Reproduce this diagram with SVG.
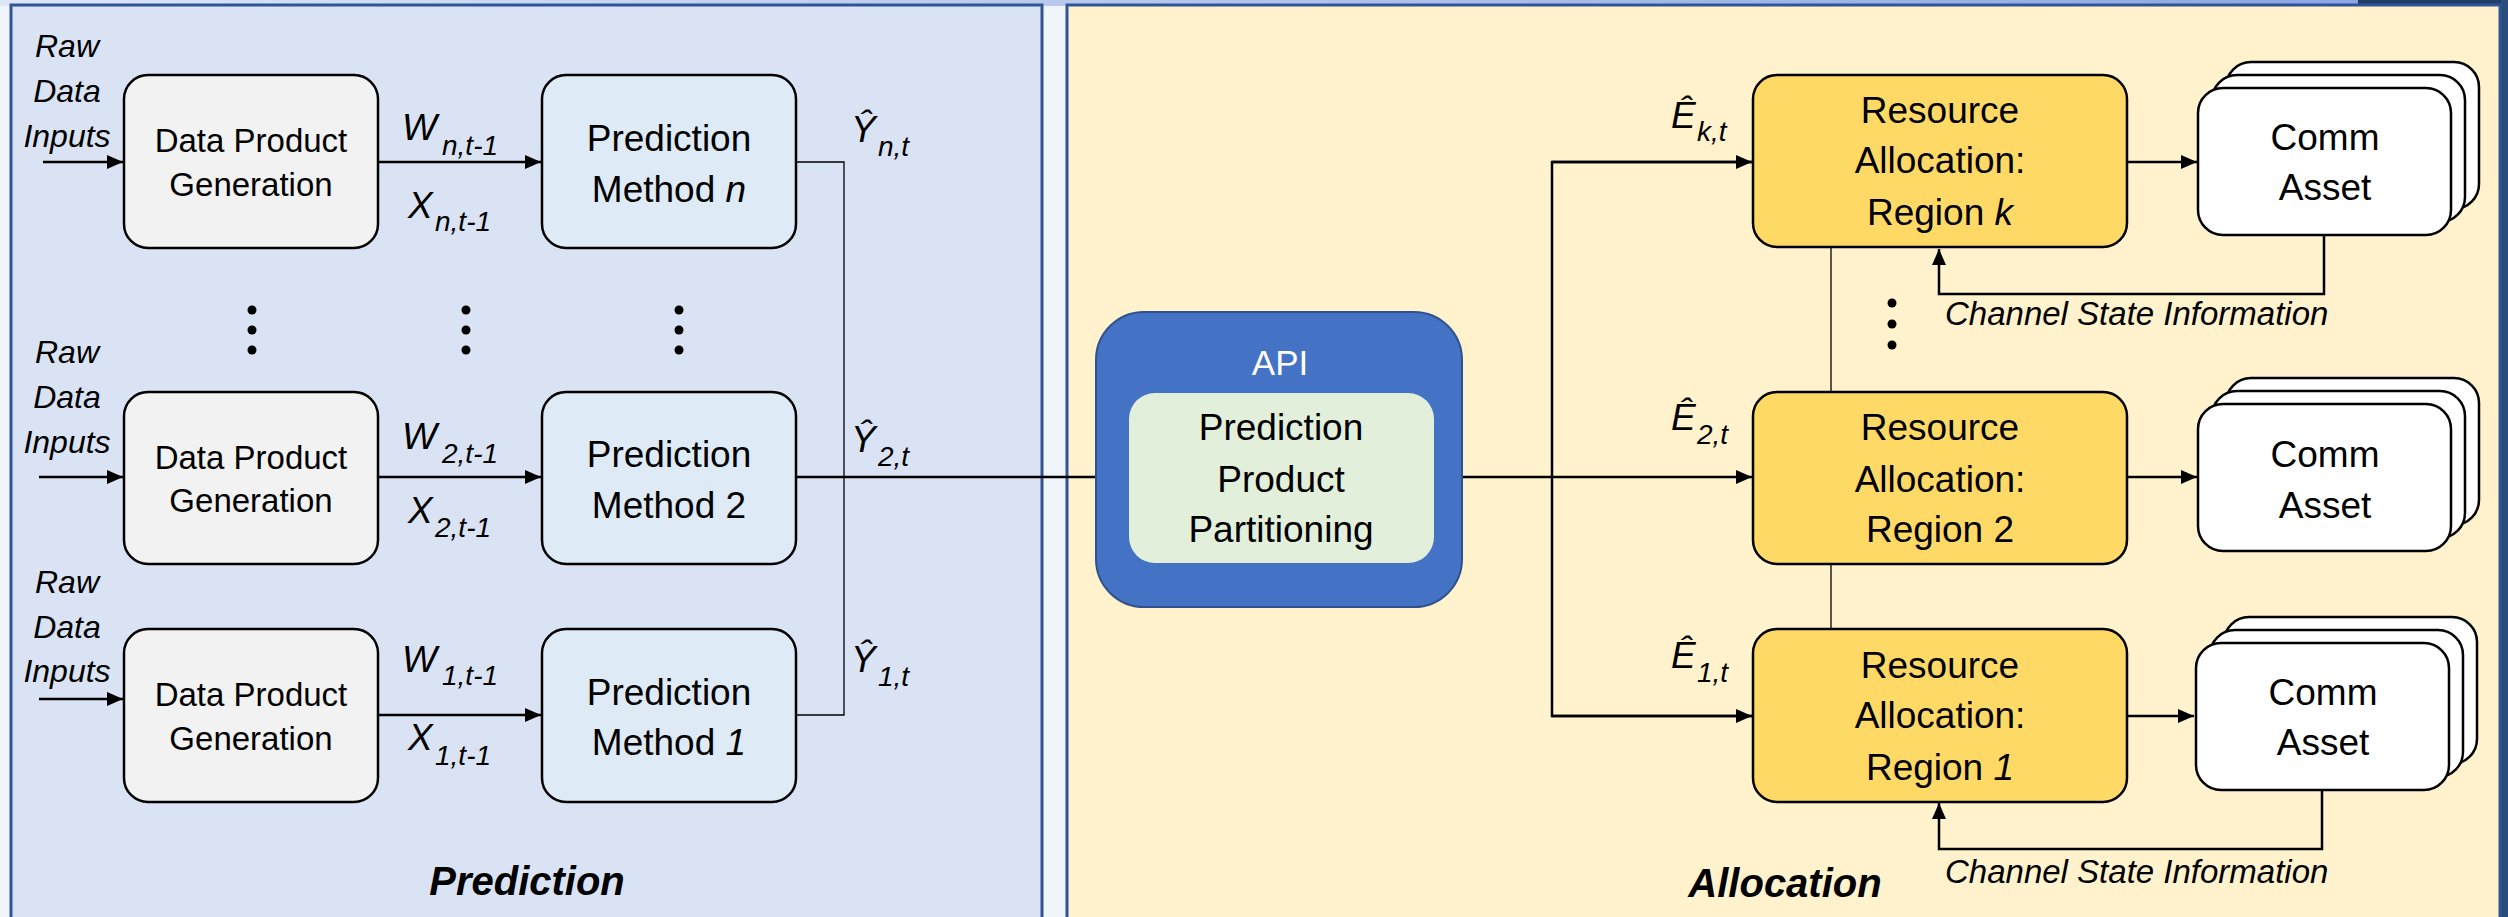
<svg xmlns="http://www.w3.org/2000/svg" width="2508" height="917" viewBox="0 0 2508 917">
<defs>
<marker id="ah" markerUnits="userSpaceOnUse" markerWidth="16" markerHeight="14" refX="16" refY="7" orient="auto"><path d="M0,0 L16,7 L0,14 Z" fill="#000"/></marker>
<linearGradient id="topg" x1="0" x2="1" y1="0" y2="0"><stop offset="0" stop-color="#DCE6F6"/><stop offset="1" stop-color="#8EA6E2"/></linearGradient>
<style>
text{font-family:"Liberation Sans",Arial,sans-serif;fill:#000}
.t32{font-size:33px;text-anchor:middle}
.t37{font-size:37px;text-anchor:middle}
.it{font-style:italic}
.raw{font-size:32px;font-style:italic;text-anchor:middle}
.m{font-size:37px;font-style:italic}
.s{font-size:28px;font-style:italic}
.csi{font-size:33px;font-style:italic}
.title{font-size:40px;font-weight:bold;font-style:italic;text-anchor:middle}
.box{stroke:#000;stroke-width:2.5}
.dpg{fill:#F2F2F2}
.pm{fill:#DEEAF6}
.ra{fill:#FFD966}
.ca{fill:#FFFFFF}
.c{fill:none;stroke:#000;stroke-width:2.5}
.thin{fill:none;stroke:#000;stroke-width:1.3}
.arr{marker-end:url(#ah)}
</style>
</defs>
<!-- background -->
<rect x="0" y="0" width="2508" height="917" fill="#F0F5FB"/>
<rect x="0" y="0" width="2360" height="6" fill="url(#topg)"/>
<rect x="2358" y="0" width="150" height="6" fill="#1F3D66"/>
<rect x="2501" y="0" width="7" height="917" fill="#2A4C7D"/>
<!-- panels -->
<g id="panel-prediction">
<rect x="11" y="5" width="1031" height="930" fill="#DAE3F3" stroke="#2F5597" stroke-width="3"/>
<text class="title" x="527" y="895">Prediction</text>
</g>
<g id="panel-allocation">
<rect x="1067" y="5" width="1433" height="930" fill="#FFF2CC" stroke="#2F5597" stroke-width="3"/>
<text class="title" x="1785" y="897">Allocation</text>
</g>

<!-- connectors -->
<g id="connectors">
<line class="c arr" x1="43" y1="162" x2="123" y2="162"/>
<line class="c arr" x1="39" y1="477" x2="123" y2="477"/>
<line class="c arr" x1="39" y1="699" x2="123" y2="699"/>
<line class="c arr" x1="378" y1="162" x2="541" y2="162"/>
<line class="c arr" x1="378" y1="477" x2="541" y2="477"/>
<line class="c arr" x1="378" y1="715" x2="541" y2="715"/>
<polyline class="thin" points="796,162 844,162 844,715 796,715"/>
<line class="c arr" x1="796" y1="477" x2="1128" y2="477"/>
<line class="c arr" x1="1434" y1="477" x2="1752" y2="477"/>
<polyline class="c" points="1753,162 1552,162 1552,716 1753,716"/>
<line class="c arr" x1="1552" y1="162" x2="1752" y2="162"/>
<line class="c arr" x1="1552" y1="716" x2="1752" y2="716"/>
<line class="thin" x1="1831" y1="247" x2="1831" y2="392"/>
<line class="thin" x1="1831" y1="564" x2="1831" y2="629"/>
<line class="c arr" x1="2127" y1="162" x2="2197" y2="162"/>
<line class="c arr" x1="2127" y1="477" x2="2197" y2="477"/>
<line class="c arr" x1="2127" y1="716" x2="2194" y2="716"/>
<polyline class="c arr" points="2324,235 2324,294 1939,294 1939,249"/>
<polyline class="c arr" points="2322,789 2322,849 1939,849 1939,803"/>
</g>

<!-- labels on connectors -->
<g id="labels">
<text class="raw" x="67" y="57">Raw</text><text class="raw" x="67" y="102">Data</text><text class="raw" x="67" y="147">Inputs</text>
<text class="raw" x="67" y="363">Raw</text><text class="raw" x="67" y="408">Data</text><text class="raw" x="67" y="453">Inputs</text>
<text class="raw" x="67" y="593">Raw</text><text class="raw" x="67" y="638">Data</text><text class="raw" x="67" y="682">Inputs</text>

<text class="m" x="402" y="140">W</text><text class="s" x="442" y="155">n,t-1</text>
<text class="m" x="408" y="218">X</text><text class="s" x="435" y="231">n,t-1</text>
<text class="m" x="402" y="449">W</text><text class="s" x="442" y="463">2,t-1</text>
<text class="m" x="408" y="523">X</text><text class="s" x="435" y="537">2,t-1</text>
<text class="m" x="402" y="672">W</text><text class="s" x="442" y="685">1,t-1</text>
<text class="m" x="408" y="750">X</text><text class="s" x="435" y="765">1,t-1</text>

<text class="m" x="851" y="142">Ŷ</text><text class="s" x="878" y="156">n,t</text>
<text class="m" x="851" y="452">Ŷ</text><text class="s" x="878" y="466">2,t</text>
<text class="m" x="851" y="672">Ŷ</text><text class="s" x="878" y="686">1,t</text>

<text class="m" x="1671" y="128">Ê</text><text class="s" x="1697" y="141">k,t</text>
<text class="m" x="1671" y="430">Ê</text><text class="s" x="1697" y="444">2,t</text>
<text class="m" x="1671" y="668">Ê</text><text class="s" x="1697" y="682">1,t</text>

<text class="csi" x="1945" y="325">Channel State Information</text>
<text class="csi" x="1945" y="883">Channel State Information</text>

<g fill="#000">
<circle cx="252" cy="310" r="4.5"/><circle cx="252" cy="330" r="4.5"/><circle cx="252" cy="350" r="4.5"/>
<circle cx="466" cy="310" r="4.5"/><circle cx="466" cy="330" r="4.5"/><circle cx="466" cy="350" r="4.5"/>
<circle cx="679" cy="310" r="4.5"/><circle cx="679" cy="330" r="4.5"/><circle cx="679" cy="350" r="4.5"/>
<circle cx="1892" cy="303" r="4.5"/><circle cx="1892" cy="324" r="4.5"/><circle cx="1892" cy="345" r="4.5"/>
</g>
</g>

<!-- Data product generation -->
<g id="dpg-n"><rect class="box dpg" x="124" y="75" width="254" height="173" rx="24"/><text class="t32" x="251" y="152">Data Product</text><text class="t32" x="251" y="196">Generation</text></g>
<g id="dpg-2"><rect class="box dpg" x="124" y="392" width="254" height="172" rx="24"/><text class="t32" x="251" y="469">Data Product</text><text class="t32" x="251" y="512">Generation</text></g>
<g id="dpg-1"><rect class="box dpg" x="124" y="629" width="254" height="173" rx="24"/><text class="t32" x="251" y="706">Data Product</text><text class="t32" x="251" y="750">Generation</text></g>

<!-- Prediction methods -->
<g id="pm-n"><rect class="box pm" x="542" y="75" width="254" height="173" rx="24"/><text class="t37" x="669" y="151">Prediction</text><text class="t37" x="669" y="202">Method <tspan class="it">n</tspan></text></g>
<g id="pm-2"><rect class="box pm" x="542" y="392" width="254" height="172" rx="24"/><text class="t37" x="669" y="467">Prediction</text><text class="t37" x="669" y="518">Method 2</text></g>
<g id="pm-1"><rect class="box pm" x="542" y="629" width="254" height="173" rx="24"/><text class="t37" x="669" y="705">Prediction</text><text class="t37" x="669" y="755">Method <tspan class="it">1</tspan></text></g>

<!-- API -->
<g id="api">
<rect x="1096" y="312" width="366" height="295" rx="48" fill="#4472C4" stroke="#2F528F" stroke-width="2"/>
<text x="1280" y="375" style="font-size:35px;text-anchor:middle;fill:#FFFFFF">API</text>
<rect x="1129" y="393" width="305" height="170" rx="26" fill="#E2EFDA"/>
<text class="t37" x="1281" y="440">Prediction</text>
<text class="t37" x="1281" y="492">Product</text>
<text class="t37" x="1281" y="542">Partitioning</text>
</g>

<!-- Resource allocation -->
<g id="ra-k"><rect class="box ra" x="1753" y="75" width="374" height="172" rx="24"/><text class="t37" x="1940" y="123">Resource</text><text class="t37" x="1940" y="173">Allocation:</text><text class="t37" x="1940" y="225">Region <tspan class="it">k</tspan></text></g>
<g id="ra-2"><rect class="box ra" x="1753" y="392" width="374" height="172" rx="24"/><text class="t37" x="1940" y="440">Resource</text><text class="t37" x="1940" y="492">Allocation:</text><text class="t37" x="1940" y="542">Region 2</text></g>
<g id="ra-1"><rect class="box ra" x="1753" y="629" width="374" height="173" rx="24"/><text class="t37" x="1940" y="678">Resource</text><text class="t37" x="1940" y="728">Allocation:</text><text class="t37" x="1940" y="780">Region <tspan class="it">1</tspan></text></g>

<!-- Comm assets -->
<g id="ca-k">
<rect class="box ca" x="2226" y="62" width="253" height="147" rx="25"/>
<rect class="box ca" x="2212" y="75" width="253" height="147" rx="25"/>
<rect class="box ca" x="2198" y="88" width="253" height="147" rx="25"/>
<text class="t37" x="2325" y="150">Comm</text><text class="t37" x="2325" y="200">Asset</text>
</g>
<g id="ca-2">
<rect class="box ca" x="2226" y="378" width="253" height="147" rx="25"/>
<rect class="box ca" x="2212" y="391" width="253" height="147" rx="25"/>
<rect class="box ca" x="2198" y="404" width="253" height="147" rx="25"/>
<text class="t37" x="2325" y="467">Comm</text><text class="t37" x="2325" y="518">Asset</text>
</g>
<g id="ca-1">
<rect class="box ca" x="2224" y="617" width="253" height="147" rx="25"/>
<rect class="box ca" x="2210" y="630" width="253" height="147" rx="25"/>
<rect class="box ca" x="2196" y="643" width="253" height="147" rx="25"/>
<text class="t37" x="2323" y="705">Comm</text><text class="t37" x="2323" y="755">Asset</text>
</g>
</svg>
